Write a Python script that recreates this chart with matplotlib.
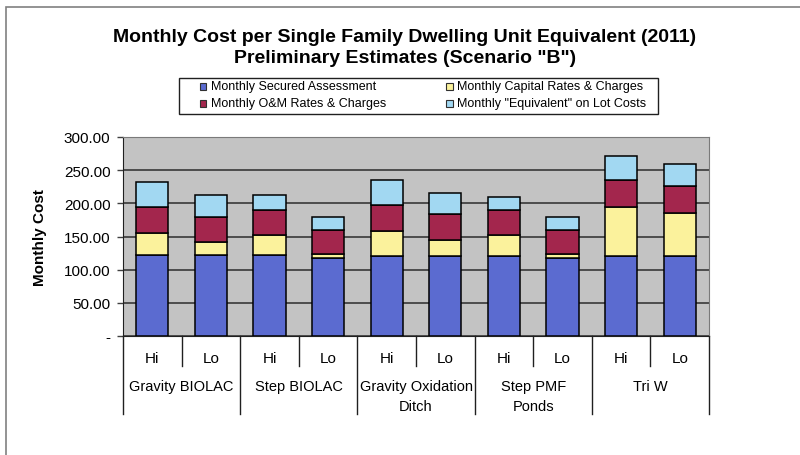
import matplotlib.pyplot as plt
import matplotlib.transforms as mtransforms
from matplotlib.patches import Rectangle
import numpy as np

plt.rcParams['font.family'] = ['Liberation Sans', 'DejaVu Sans']

# Data
groups = ['Gravity BIOLAC', 'Step BIOLAC', 'Gravity Oxidation\nDitch', 'Step PMF\nPonds', 'Tri W']
levels = ['Hi', 'Lo']
secured = [122, 122, 122, 117, 121, 121, 121, 118, 120, 120]
capital = [34, 19, 30, 6.5, 38, 24, 31, 5, 74, 65]
om = [39, 39, 38, 36.5, 39, 39, 38, 37, 41, 41]
equiv = [37, 33, 22, 20, 37, 32, 20, 19, 37, 34]
series_names = ['Monthly Secured Assessment', 'Monthly Capital Rates & Charges',
                'Monthly O&M Rates & Charges', 'Monthly "Equivalent" on Lot Costs']
yticks = [0, 50, 100, 150, 200, 250, 300]
ytick_labels = ['-', '50.00', '100.00', '150.00', '200.00', '250.00', '300.00']

c_blue = '#5b6bd0'
c_yellow = '#fbf29c'
c_red = '#a3264d'
c_cyan = '#a2d8f2'

W, H = 800, 456


def fx(px):
    return px / W


def fy(py):
    return 1 - py / H


fig = plt.figure(figsize=(8, 4.56), dpi=100)
fig.patches.append(Rectangle((fx(6), -0.1), 1.2, fy(8) + 0.1,
                             transform=fig.transFigure, fill=False,
                             edgecolor='#808080', lw=1.2))

ax = fig.add_axes([fx(123), fy(337), 586 / W, 199 / H])
ax.set_facecolor('#c3c3c3')

x = np.arange(len(secured))
w = 0.55
bottom = np.zeros(len(x))
for vals, col in [(secured, c_blue), (capital, c_yellow), (om, c_red), (equiv, c_cyan)]:
    ax.bar(x, vals, w, bottom=bottom, color=col, edgecolor='black', linewidth=1.1, zorder=3)
    bottom += np.array(vals)

ax.set_xlim(-0.5, len(x) - 0.5)
ax.set_ylim(0, 300)
ax.set_yticks(yticks)
ax.set_yticklabels(ytick_labels, fontsize=11)
ax.tick_params(axis='y', length=4, width=1, color='#404040', pad=5)
ax.set_xticks([])
ax.yaxis.grid(True, color='#383838', linewidth=1.2, zorder=1)
ax.set_axisbelow(True)
ax.set_ylabel('Monthly Cost', fontsize=11, fontweight='bold', labelpad=12)
for side in ['top', 'right']:
    ax.spines[side].set_color('#7a7a7a')
ax.spines['left'].set_color('#202020')
ax.spines['bottom'].set_color('#202020')

# category axis separators and labels
trans = mtransforms.blended_transform_factory(ax.transData, ax.transAxes)
for g in range(len(groups) + 1):
    ax.plot([2 * g - 0.5] * 2, [0, -0.392], transform=trans, color='#202020',
            lw=1.0, clip_on=False)
for g in range(len(groups)):
    ax.plot([2 * g + 0.5] * 2, [0, -0.151], transform=trans, color='#202020',
            lw=1.0, clip_on=False)
for i in x:
    ax.text(i, -0.11, levels[i % 2], transform=trans, ha='center', va='center', fontsize=11)
for g, name in enumerate(groups):
    ax.text(2 * g + 0.5, -0.218, name, transform=trans, ha='center', va='top',
            fontsize=10.5, linespacing=1.5)

fig.text(0.506, fy(48), 'Monthly Cost per Single Family Dwelling Unit Equivalent (2011)\n'
         'Preliminary Estimates (Scenario "B")', ha='center', va='center',
         fontsize=14, fontweight='bold', linespacing=1.3)

# legend box, drawn by hand to match the original spacing
fig.patches.append(Rectangle((fx(179), fy(115)), (658 - 179) / W, 36 / H,
                             transform=fig.transFigure, facecolor='white',
                             edgecolor='#202020', lw=1.0))
entries = [(203, 87, c_blue, series_names[0]), (203, 104, c_red, series_names[2]),
           (449, 87, c_yellow, series_names[1]), (449, 104, c_cyan, series_names[3])]
for px, py, col, name in entries:
    fig.patches.append(Rectangle((fx(px - 3.5), fy(py + 3.5)), 7 / W, 7 / H,
                                 transform=fig.transFigure, facecolor=col,
                                 edgecolor='#303030', lw=0.8))
    fig.text(fx(px + 8), fy(py), name, ha='left', va='center', fontsize=9)

fig.savefig('out.png', dpi=100)
